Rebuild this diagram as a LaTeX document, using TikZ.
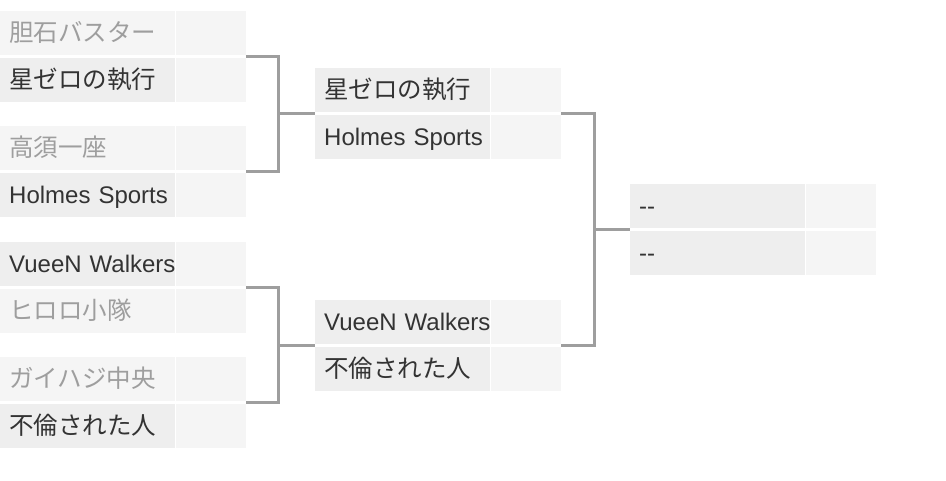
\documentclass[tikz,border=0pt]{standalone}
\usepackage{fontspec}
\setmainfont{Noto Sans CJK JP}
\newfontfamily\latinfont{Liberation Sans}
\usetikzlibrary{positioning,calc}
\definecolor{bkName}{HTML}{EEEEEE}
\definecolor{bkLight}{HTML}{F5F5F5}
\definecolor{bkWin}{HTML}{333333}
\definecolor{bkLose}{HTML}{9E9E9E}
\definecolor{bkLine}{HTML}{9E9E9E}

\begin{document}
\begin{tikzpicture}[
  x=1pt,y=-1pt,
  node distance=3pt and 0pt,
  cell/.style={minimum height=43.5pt,inner ysep=0pt,inner xsep=0pt,text height=18pt,
    text depth=0pt,font=\fontsize{24.5}{28}\selectfont,anchor=north west},
  team/.style={cell,fill=bkName,text=bkWin,text width=175pt,align=left,
    execute at begin node={\hspace*{9pt}\hbox to 0pt\bgroup},
    execute at end node={\hss\egroup}},
  lost/.style={team,fill=bkLight,text=bkLose},
  latin/.style={font=\fontsize{24}{28}\selectfont\latinfont},
  score/.style={cell,fill=bkLight,minimum width=70pt},
  link/.style={draw=bkLine,line width=3pt}
]
\useasboundingbox (0,0) rectangle (946,480);
\node[lost] (m1a) at (0,11) {胆石バスター};
\node[score,right=of m1a] (m1as) {};
\node[team,below=of m1a] (m1b) {星ゼロの執行};
\node[score,right=of m1b] (m1bs) {};
\node[lost] (m2a) at (0,126) {高須一座};
\node[score,right=of m2a] (m2as) {};
\node[team,latin,below=of m2a] (m2b) {Holmes Sports};
\node[score,right=of m2b] (m2bs) {};
\node[team,latin] (m3a) at (0,242) {VueeN Walkers};
\node[score,right=of m3a] (m3as) {};
\node[lost,below=of m3a] (m3b) {ヒロロ小隊};
\node[score,right=of m3b] (m3bs) {};
\node[lost] (m4a) at (0,357) {ガイハジ中央};
\node[score,right=of m4a] (m4as) {};
\node[team,below=of m4a] (m4b) {不倫された人};
\node[score,right=of m4b] (m4bs) {};
\node[team] (s1a) at (315,68) {星ゼロの執行};
\node[score,right=of s1a] (s1as) {};
\node[team,latin,below=of s1a] (s1b) {Holmes Sports};
\node[score,right=of s1b] (s1bs) {};
\node[team,latin] (s2a) at (315,300) {VueeN Walkers};
\node[score,right=of s2a] (s2as) {};
\node[team,below=of s2a] (s2b) {不倫された人};
\node[score,right=of s2b] (s2bs) {};
\node[team,latin] (fa) at (630,184) {-{}-};
\node[score,right=of fa] (fas) {};
\node[team,latin,below=of fa] (fb) {-{}-};
\node[score,right=of fb] (fbs) {};
\coordinate (m1) at ($(m1as.south east)!.5!(m1bs.north east)$);
\coordinate (m2) at ($(m2as.south east)!.5!(m2bs.north east)$);
\coordinate (m3) at ($(m3as.south east)!.5!(m3bs.north east)$);
\coordinate (m4) at ($(m4as.south east)!.5!(m4bs.north east)$);
\coordinate (s1) at ($(s1as.south east)!.5!(s1bs.north east)$);
\coordinate (s2) at ($(s2as.south east)!.5!(s2bs.north east)$);
\coordinate (s1in) at ($(s1a.south west)!.5!(s1b.north west)$);
\coordinate (s2in) at ($(s2a.south west)!.5!(s2b.north west)$);
\coordinate (fin) at ($(fa.south west)!.5!(fb.north west)$);
\coordinate (j1) at ($(s1in)+(-37,0)$);
\coordinate (j2) at ($(s2in)+(-37,0)$);
\coordinate (j3) at ($(fin)+(-36,0)$);
\draw[link] (m1) -| (j1) |- (m2);
\draw[link] (j1) -- (s1in);
\draw[link] (m3) -| (j2) |- (m4);
\draw[link] (j2) -- (s2in);
\draw[link] (s1) -| (j3) |- (s2);
\draw[link] (j3) -- (fin);
\end{tikzpicture}
\end{document}
